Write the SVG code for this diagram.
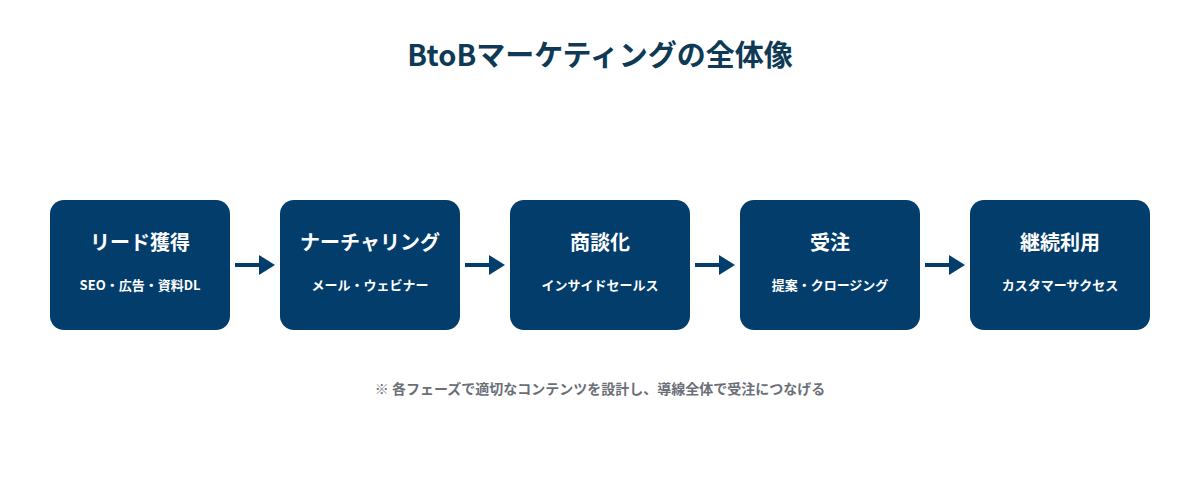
<svg xmlns="http://www.w3.org/2000/svg" width="1200" height="480" viewBox="0 0 1200 480">
<style>
text{font-family:"Noto Sans CJK JP","Noto Sans",sans-serif;font-weight:700;text-anchor:middle}
.box{fill:#033d6c}
.t{fill:#fff;font-size:20px}
.s{fill:#fff;font-size:13px}
.c line{stroke:#033d6c;stroke-width:4}
</style>
<defs><marker id="a" markerWidth="4" markerHeight="5" refX="1" refY="2.5" orient="auto" markerUnits="strokeWidth"><path d="M0,0L4,2.5L0,5z" fill="#033d6c"/></marker></defs>
<rect width="1200" height="480" fill="#fff"/>
<text x="600" y="66" font-size="29" fill="#0e3a55">BtoBマーケティングの全体像</text>
<g id="n1"><rect class="box" x="50" y="200" width="180" height="130" rx="14"/><text class="t" x="140" y="250">リード獲得</text><text class="s" x="140" y="290">SEO・広告・資料DL</text></g>
<g id="n2"><rect class="box" x="280" y="200" width="180" height="130" rx="14"/><text class="t" x="370" y="250">ナーチャリング</text><text class="s" x="370" y="290">メール・ウェビナー</text></g>
<g id="n3"><rect class="box" x="510" y="200" width="180" height="130" rx="14"/><text class="t" x="600" y="250">商談化</text><text class="s" x="600" y="290">インサイドセールス</text></g>
<g id="n4"><rect class="box" x="740" y="200" width="180" height="130" rx="14"/><text class="t" x="830" y="250">受注</text><text class="s" x="830" y="290">提案・クロージング</text></g>
<g id="n5"><rect class="box" x="970" y="200" width="180" height="130" rx="14"/><text class="t" x="1060" y="250">継続利用</text><text class="s" x="1060" y="290">カスタマーサクセス</text></g>
<g class="c">
<line x1="235" y1="265" x2="263" y2="265" marker-end="url(#a)"/>
<line x1="465" y1="265" x2="493" y2="265" marker-end="url(#a)"/>
<line x1="695" y1="265" x2="723" y2="265" marker-end="url(#a)"/>
<line x1="925" y1="265" x2="953" y2="265" marker-end="url(#a)"/>
</g>
<text x="600" y="394" font-size="14" fill="#6b6f78">※ 各フェーズで適切なコンテンツを設計し、導線全体で受注につなげる</text>
</svg>
